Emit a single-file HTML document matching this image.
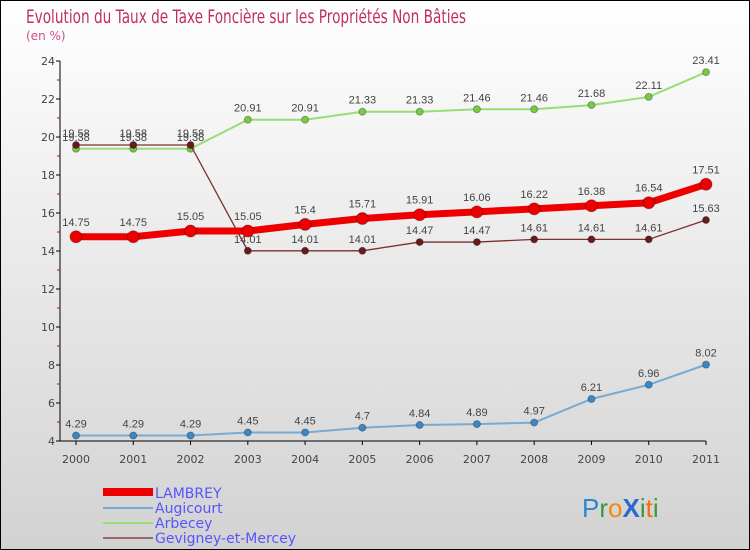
<!DOCTYPE html>
<html><head><meta charset="utf-8"><style>
body{margin:0}
#c{width:750px;height:550px;position:relative;overflow:hidden;font-family:"DejaVu Sans","Liberation Sans",sans-serif}
</style></head><body>
<div id="c">
<svg id="s" width="750" height="550" xmlns="http://www.w3.org/2000/svg">
<defs><linearGradient id="bg" x1="0" y1="0" x2="0" y2="1"><stop offset="0" stop-color="#ffffff"/><stop offset="1" stop-color="#d2d2d2"/></linearGradient></defs>
<rect x="0.5" y="0.5" width="749" height="549" fill="url(#bg)" stroke="#000"/>
<text x="26" y="23" font-size="19" fill="#c0305e" textLength="440" lengthAdjust="spacingAndGlyphs">Evolution du Taux de Taxe Foncière sur les Propriétés Non Bâties</text>
<text x="26" y="40" font-size="12" fill="#d0508a">(en %)</text>
<g id="g"></g>
<g>
<rect x="103" y="488" width="50" height="8" fill="#e00"/>
<text x="155" y="498" font-size="14" fill="#5555ff">LAMBREY</text>
<line x1="103" y1="508" x2="153" y2="508" stroke="#7aaad0" stroke-width="2"/>
<text x="155" y="513" font-size="14" fill="#5555ff">Augicourt</text>
<line x1="103" y1="523" x2="153" y2="523" stroke="#99dd77" stroke-width="2"/>
<text x="155" y="528" font-size="14" fill="#5555ff">Arbecey</text>
<line x1="103" y1="538" x2="153" y2="538" stroke="#9a6a6a" stroke-width="2"/>
<text x="155" y="543" font-size="14" fill="#5555ff">Gevigney-et-Mercey</text>
</g>
<g font-size="26" font-family="Liberation Sans,sans-serif">
<text x="582" y="517"><tspan fill="#2a88d0">P</tspan><tspan fill="#3a9a3a">r</tspan><tspan fill="#f08a10">o</tspan><tspan fill="#2a6ad0" font-weight="bold">X</tspan><tspan fill="#3a9a3a">i</tspan><tspan fill="#f07010">t</tspan><tspan fill="#3a9a3a">i</tspan></text>
</g>
</svg>
</div>
<script>
const years=[2000,2001,2002,2003,2004,2005,2006,2007,2008,2009,2010,2011];
const yTicks=[4,6,8,10,12,14,16,18,20,22,24];
const lambrey=[14.75,14.75,15.05,15.05,15.4,15.71,15.91,16.06,16.22,16.38,16.54,17.51];
const augicourt=[4.29,4.29,4.29,4.45,4.45,4.7,4.84,4.89,4.97,6.21,6.96,8.02];
const arbecey=[19.38,19.38,19.38,20.91,20.91,21.33,21.33,21.46,21.46,21.68,22.11,23.41];
const gevigney=[19.58,19.58,19.58,14.01,14.01,14.01,14.47,14.47,14.61,14.61,14.61,15.63];
const NS="http://www.w3.org/2000/svg";
const g=document.getElementById('g');
function X(i){return 76+i*(630/11);}
function Y(v){return 441-(v-4)*19;}
function mk(t,a){const e=document.createElementNS(NS,t);for(const k in a)e.setAttribute(k,a[k]);g.appendChild(e);return e;}
let e;
e=mk('line',{x1:60,y1:61,x2:60,y2:441,stroke:'#000'});


e=mk('line',{x1:60,y1:441,x2:706,y2:441,stroke:'#000'});


yTicks.forEach(v=>{
 mk('line',{x1:56,y1:Y(v),x2:60,y2:Y(v),stroke:'#000'});
 if(v<24) mk('line',{x1:57,y1:Y(v+1),x2:60,y2:Y(v+1),stroke:'#d00'});
 e=mk('text',{x:55,y:Y(v)+4,'font-size':11,fill:'#444','text-anchor':'end'});
 e.textContent=v;
 
 
});
years.forEach((yr,i)=>{
 mk('line',{x1:X(i),y1:441,x2:X(i),y2:445,stroke:'#000'});
 e=mk('text',{x:X(i),y:463,'font-size':11,fill:'#444','text-anchor':'middle'});
 e.textContent=yr;
 
 
});
function series(name,vals,color,w,r,fill,dy){
 const p=vals.map((v,i)=>X(i)+','+Y(v)).join(' ');
 e=mk('polyline',{points:p,fill:'none',stroke:color,'stroke-width':w});
 
 
 vals.forEach((v,i)=>{
  e=mk('circle',{cx:X(i),cy:Y(v),r:r,fill:fill,stroke:'rgba(0,0,0,0.3)'});
  
  
  e=mk('text',{x:X(i),y:Y(v)+dy,'font-size':11,fill:'#444','text-anchor':'middle','font-family':'Liberation Sans,sans-serif'});
  e.textContent=String(v);
  
  
 });
}
series('augicourt',augicourt,'#7aaad0',2,3.5,'#3a88c8',-8);
series('arbecey',arbecey,'#99dd77',2,3.5,'#77cc44',-8);
series('gevigney',gevigney,'#7a3030',1.3,3.5,'#6a1a1a',-8);
series('lambrey',lambrey,'#ee0000',7,6,'#ee0000',-11);
</script>
</body></html>
